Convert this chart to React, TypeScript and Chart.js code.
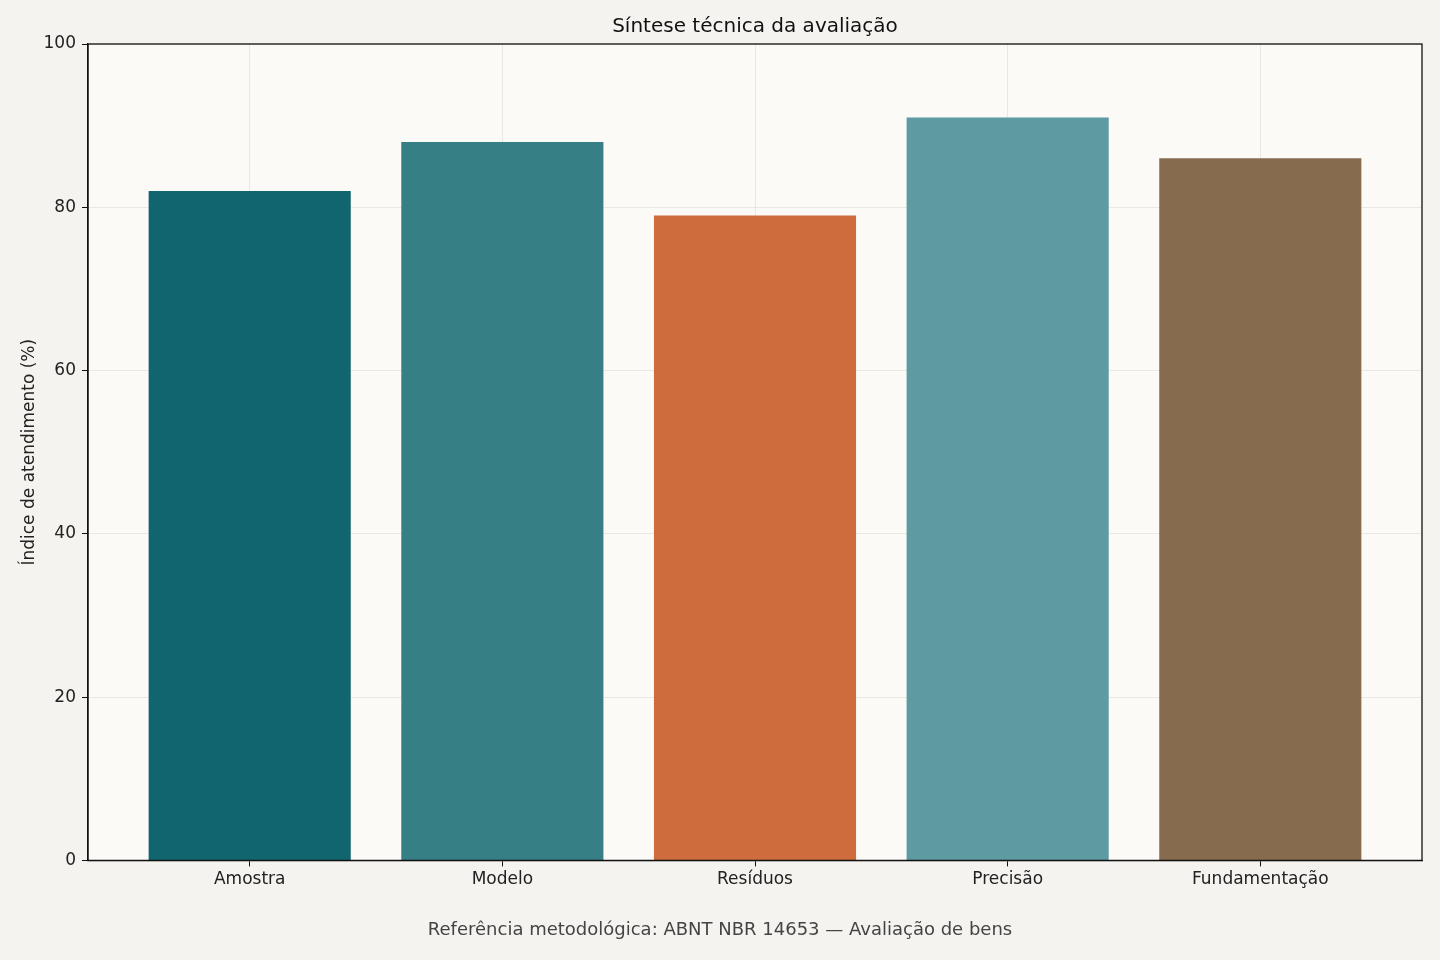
import { useEffect, useRef } from 'react';
import { Chart, registerables } from 'chart.js';

Chart.register(...registerables);

const categories = ['Amostra', 'Modelo', 'Resíduos', 'Precisão', 'Fundamentação'];
const scores = [82, 88, 79, 91, 86];
const barColors = ['#11656e', '#367f85', '#cf6c3e', '#5e9aa2', '#866b4e'];
const yTicks = [0, 20, 40, 60, 80, 100];

const chartTitle = 'Síntese técnica da avaliação';
const yTitle = 'Índice de atendimento (%)';
const footer = 'Referência metodológica: ABNT NBR 14653 — Avaliação de bens';

// backgrounds, full axes box and a title centred over the plot area
const framePlugin = {
  id: 'frame',
  beforeDraw(chart: Chart) {
    const { ctx, chartArea: a, width, height } = chart;
    ctx.save();
    ctx.fillStyle = '#f4f3ef';
    ctx.fillRect(0, 0, width, height);
    ctx.fillStyle = '#fbfaf7';
    ctx.fillRect(a.left, a.top, a.right - a.left, a.bottom - a.top);
    ctx.restore();
  },
  afterDraw(chart: Chart) {
    const { ctx, chartArea: a } = chart;
    ctx.save();
    ctx.strokeStyle = '#111';
    ctx.lineWidth = 1.3;
    ctx.strokeRect(a.left, a.top, a.right - a.left, a.bottom - a.top);
    ctx.fillStyle = '#111';
    ctx.font = '20px "DejaVu Sans", sans-serif';
    ctx.textAlign = 'center';
    ctx.textBaseline = 'middle';
    ctx.fillText(chartTitle, (a.left + a.right) / 2, a.top - 17);
    ctx.restore();
  },
};

export default function App() {
  const canvasRef = useRef<HTMLCanvasElement | null>(null);
  const chartRef = useRef<Chart | null>(null);

  useEffect(() => {
    document.body.style.margin = '0';
    if (!canvasRef.current) return;
    if (chartRef.current) chartRef.current.destroy();

    Chart.defaults.font.family = '"DejaVu Sans", sans-serif';

    chartRef.current = new Chart(canvasRef.current, {
      type: 'bar',
      data: {
        datasets: [{
          data: scores.map((v, i) => ({ x: i, y: v })),
          backgroundColor: barColors,
          borderWidth: 0,
          categoryPercentage: 0.8,
          barPercentage: 1,
        }],
      },
      plugins: [framePlugin],
      options: {
        animation: false,
        responsive: true,
        maintainAspectRatio: false,
        layout: { padding: { left: 0, right: 0, top: 44, bottom: 0 } },
        plugins: {
          legend: { display: false },
          tooltip: { enabled: false },
          title: { display: false },
          subtitle: {
            display: true,
            position: 'bottom',
            text: footer,
            color: '#444',
            font: { size: 18, weight: 'normal' },
            padding: { top: 18, bottom: 19 },
          },
        },
        scales: {
          x: {
            type: 'linear',
            min: -0.64,
            max: 4.64,
            offset: false,
            z: 1,
            afterBuildTicks: (scale: any) => {
              scale.ticks = categories.map((_, i) => ({ value: i }));
            },
            afterFit: (scale: any) => {
              scale.height = 41;
            },
            ticks: {
              autoSkip: false,
              maxRotation: 0,
              color: '#222',
              font: { size: 17 },
              padding: 3,
              callback: (v: any) => categories[v] ?? '',
            },
            grid: {
              offset: false,
              color: 'rgba(200, 198, 190, 0.35)',
              tickColor: '#111',
              tickLength: 6,
              lineWidth: 1,
            },
            border: { color: '#111', width: 1.3 },
          },
          y: {
            min: 0,
            max: 100,
            z: 1,
            afterBuildTicks: (scale: any) => {
              scale.ticks = yTicks.map((v) => ({ value: v }));
            },
            afterFit: (scale: any) => {
              scale.width = 88;
            },
            ticks: {
              color: '#222',
              font: { size: 17 },
              padding: 6,
            },
            grid: {
              color: 'rgba(200, 198, 190, 0.35)',
              tickColor: '#111',
              tickLength: 6,
              lineWidth: 1,
            },
            border: { color: '#111', width: 1.3 },
            title: {
              display: true,
              text: yTitle,
              color: '#222',
              font: { size: 17 },
              padding: { top: 19, bottom: 0 },
            },
          },
          // empty right-hand box that keeps the margin beside the plot
          yRight: {
            type: 'linear',
            position: 'right',
            display: true,
            ticks: { display: false },
            grid: { display: false },
            border: { display: false },
            afterFit: (scale: any) => {
              scale.width = 18;
            },
          },
        },
      },
    } as any);

    return () => {
      if (chartRef.current) {
        chartRef.current.destroy();
        chartRef.current = null;
      }
    };
  }, []);

  return (
    <div style={{ width: 1440, height: 960, position: 'relative' }}>
      <canvas ref={canvasRef} />
    </div>
  );
}
